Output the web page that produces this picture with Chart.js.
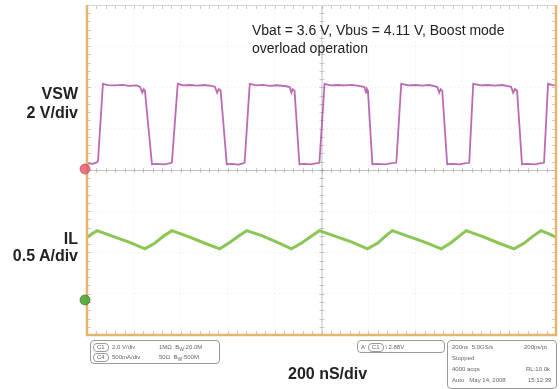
<!DOCTYPE html>
<html>
<head>
<meta charset="utf-8">
<script src="https://cdn.jsdelivr.net/npm/chart.js@4.4.1/dist/chart.umd.min.js"></script>
<style>
    html, body { margin: 0; padding: 0; background: #fff; }
    #wrap { position: relative; width: 560px; height: 389px; font-family: Arial, "Liberation Sans", sans-serif; color: #222; }
    #scope { position: absolute; left: 0; top: 0; }
    .lbl { position: absolute; font-weight: bold; font-size: 16px; line-height: 16px; white-space: nowrap; }
    .right { right: 482px; text-align: right; }
    .note { position: absolute; font-size: 14px; line-height: 14px; white-space: nowrap; color: #222; }
    .box { position: absolute; border: 1px solid #9a9a9a; border-radius: 4px; box-sizing: border-box; font-size: 6px; color: #666; }
    .row { position: absolute; white-space: nowrap; }
    .pill { display: inline-block; border: 1px solid #999; border-radius: 4px; padding: 0 3px; line-height: 7px; }
</style>
</head>
<body>
<div id="wrap">
    <canvas id="scope" width="560" height="389"></canvas>

    <div class="note" style="left:252px; top:23px;">Vbat = 3.6 V, Vbus = 4.11 V, Boost mode</div>
    <div class="note" style="left:252px; top:41px;">overload operation</div>

    <div class="lbl right" style="top:86px;">VSW</div>
    <div class="lbl right" style="top:105px;">2 V/div</div>
    <div class="lbl right" style="top:231px;">IL</div>
    <div class="lbl right" style="top:248px;">0.5 A/div</div>
    <div class="lbl" style="left:288px; top:366px;">200 nS/div</div>

    <!-- scope readout boxes -->
    <div class="box" style="left:90px; top:340px; width:130px; height:24px;">
        <div class="row" style="left:2px; top:2px;"><span class="pill">C1</span>&nbsp;&nbsp;2.0 V/div</div>
        <div class="row" style="left:68px; top:3px;">1MΩ &nbsp;B<sub>W</sub>:20.0M</div>
        <div class="row" style="left:2px; top:12px;"><span class="pill">C4</span>&nbsp;&nbsp;500mA/div</div>
        <div class="row" style="left:68px; top:13px;">50Ω &nbsp;B<sub>W</sub>:500M</div>
    </div>
    <div class="box" style="left:357px; top:340px; width:88px; height:13px;">
        <div class="row" style="left:3px; top:2px;">A' <span class="pill">C1</span> \ 2.88V</div>
    </div>
    <div class="box" style="left:447px; top:340px; width:110px; height:49px;">
        <div class="row" style="left:4px; top:3px;">200ns &nbsp;5.0GS/s</div>
        <div class="row" style="left:76px; top:3px;">200ps/pt</div>
        <div class="row" style="left:4px; top:14px;">Stopped</div>
        <div class="row" style="left:4px; top:25px;">4000 acqs</div>
        <div class="row" style="left:78px; top:25px;">RL:10.0k</div>
        <div class="row" style="left:4px; top:36px;">Auto &nbsp;&nbsp;May 14, 2008</div>
        <div class="row" style="left:80px; top:36px;">15:12:39</div>
    </div>
</div>

<script>
// === DATA (time in ns, VSW in volts, IL in amps) ===
const vswTime = [
    0, 25, 43, 47, 68,
    90, 120, 150, 180, 210, 226, 236, 242, 247, 277, 300, 330, 355, 362, 387,
    410, 440, 470, 500, 530, 545, 555, 562, 570, 596, 620, 645, 665, 672, 694,
    720, 750, 780, 810, 850, 864, 872, 877, 885, 906, 930, 955, 980, 991, 1013,
    1040, 1070, 1100, 1130, 1165, 1183, 1190, 1194, 1198, 1217, 1240, 1270, 1300, 1319, 1340,
    1370, 1400, 1430, 1460, 1485, 1494, 1502, 1508, 1515, 1536, 1560, 1590, 1615, 1630, 1647,
    1680, 1710, 1740, 1770, 1800, 1809, 1817, 1825, 1834, 1855, 1880, 1910, 1935, 1949, 1966,
    1985, 2000
];
const vswVolts = [
    0.32, 0.30, 0.38, 0.45, 4.18,
    4.12, 4.10, 4.13, 4.08, 4.10, 4.04, 3.75, 3.92, 3.85, 0.28, 0.30, 0.27, 0.33, 0.36, 4.18,
    4.10, 4.12, 4.09, 4.12, 4.08, 4.04, 3.75, 3.92, 3.85, 0.28, 0.30, 0.26, 0.32, 0.35, 4.18,
    4.10, 4.13, 4.08, 4.11, 4.06, 4.02, 3.75, 3.92, 3.85, 0.28, 0.30, 0.27, 0.33, 0.35, 4.18,
    4.10, 4.12, 4.10, 4.13, 4.07, 4.02, 3.75, 3.92, 3.85, 0.28, 0.30, 0.27, 0.33, 0.35, 4.18,
    4.10, 4.12, 4.09, 4.12, 4.05, 4.02, 3.75, 3.92, 3.85, 0.28, 0.30, 0.27, 0.33, 0.35, 4.18,
    4.10, 4.12, 4.09, 4.12, 4.05, 4.02, 3.75, 3.92, 3.85, 0.28, 0.30, 0.27, 0.33, 0.35, 4.18,
    4.12, 4.10
];

const ilTime = [0, 20, 43, 110, 180, 247, 290, 330, 362, 430, 500, 566, 610, 650, 681, 745, 810, 872, 915, 955,
    991, 1060, 1130, 1196, 1240, 1275, 1302, 1370, 1440, 1511, 1555, 1590, 1617, 1685, 1755, 1821, 1865, 1905, 1936, 1970, 2000];
const ilAmps = [0.76, 0.80, 0.84, 0.77, 0.70, 0.62, 0.69, 0.78, 0.84, 0.77, 0.69, 0.62, 0.70, 0.78, 0.84, 0.78, 0.70, 0.62, 0.69, 0.77,
    0.84, 0.77, 0.70, 0.62, 0.69, 0.78, 0.84, 0.77, 0.70, 0.62, 0.70, 0.78, 0.84, 0.77, 0.69, 0.62, 0.69, 0.78, 0.84, 0.80, 0.76];

// screen: 10 x 200 ns, 8 divisions high; VSW ground at centre, IL ground 3.15 div lower
const TIME_DIV = 200;
const VSW_DIV = 2;
const IL_DIV = 0.5;
const IL_OFFSET_DIV = 3.15;

const COLORS = {
    vsw: "rgba(176, 80, 166, 0.85)",
    il: "rgba(125, 192, 65, 0.9)",
    grid: "rgba(150, 150, 150, 0.18)",
    axis: "rgba(140, 140, 140, 0.5)",
    ticks: "rgba(140, 140, 140, 0.45)",
    frame: "#e6b46c",
    top: "#d6d6d6",
};

const toPoints = (xs, ys) => xs.map((x, i) => ({ x: x, y: ys[i] }));

// graticule: centre cross with minor ticks, edge ticks, orange frame, channel markers
const graticule = {
    id: "graticule",
    beforeDatasetsDraw(chart) {
        const { ctx, chartArea: a, scales } = chart;
        const xs = scales.x, ys = scales.y;
        const cx = xs.getPixelForValue(5 * TIME_DIV);
        const cy = ys.getPixelForValue(0);
        ctx.save();
        ctx.lineWidth = 1;
        ctx.strokeStyle = COLORS.axis;
        ctx.beginPath();
        ctx.moveTo(a.left, cy + 0.5); ctx.lineTo(a.right, cy + 0.5);
        ctx.moveTo(cx + 0.5, a.top); ctx.lineTo(cx + 0.5, a.bottom);
        ctx.stroke();
        // minor ticks, 5 per division
        ctx.strokeStyle = COLORS.ticks;
        ctx.beginPath();
        for (let t = 0; t <= 10 * TIME_DIV; t += TIME_DIV / 5) {
            const px = Math.round(xs.getPixelForValue(t)) + 0.5;
            ctx.moveTo(px, cy - 2); ctx.lineTo(px, cy + 3);
            ctx.moveTo(px, a.top); ctx.lineTo(px, a.top + 4);
            ctx.moveTo(px, a.bottom); ctx.lineTo(px, a.bottom - 4);
        }
        for (let v = -4 * VSW_DIV; v <= 4 * VSW_DIV; v += VSW_DIV / 5) {
            const py = Math.round(ys.getPixelForValue(v)) + 0.5;
            ctx.moveTo(cx - 2, py); ctx.lineTo(cx + 3, py);
            ctx.moveTo(a.left, py); ctx.lineTo(a.left + 4, py);
            ctx.moveTo(a.right, py); ctx.lineTo(a.right - 4, py);
        }
        ctx.stroke();
        ctx.restore();
    },
    afterDraw(chart) {
        const { ctx, chartArea: a, scales } = chart;
        ctx.save();
        ctx.strokeStyle = COLORS.top;
        ctx.lineWidth = 1;
        ctx.beginPath();
        ctx.moveTo(a.left, a.top + 0.5); ctx.lineTo(a.right, a.top + 0.5);
        ctx.stroke();
        ctx.strokeStyle = COLORS.frame;
        ctx.lineWidth = 2.5;
        ctx.beginPath();
        ctx.moveTo(a.left, a.top); ctx.lineTo(a.left, a.bottom);
        ctx.lineTo(a.right, a.bottom); ctx.lineTo(a.right, a.top);
        ctx.stroke();

        // channel ground markers
        const marker = (y, fill, edge) => {
            ctx.beginPath();
            ctx.arc(a.left - 2, y, 5, 0, Math.PI * 2);
            ctx.fillStyle = fill;
            ctx.fill();
            ctx.lineWidth = 1;
            ctx.strokeStyle = edge;
            ctx.stroke();
        };
        marker(scales.y.getPixelForValue(0) - 1, "rgba(228, 92, 112, 0.85)", "rgba(200, 60, 80, 0.6)");
        marker(scales.y2.getPixelForValue(0), "rgba(80, 165, 55, 0.9)", "rgba(50, 120, 40, 0.7)");
        ctx.restore();
    },
};

const ctx = document.getElementById("scope").getContext("2d");
new Chart(ctx, {
    type: "line",
    data: {
        datasets: [
            {
                label: "VSW",
                data: toPoints(vswTime, vswVolts),
                yAxisID: "y",
                borderColor: COLORS.vsw,
                borderWidth: 1.8,
                pointRadius: 0,
                tension: 0,
            },
            {
                label: "IL",
                data: toPoints(ilTime, ilAmps),
                yAxisID: "y2",
                borderColor: COLORS.il,
                borderWidth: 3,
                pointRadius: 0,
                tension: 0,
            },
        ],
    },
    options: {
        responsive: false,
        animation: false,
        events: [],
        layout: { padding: { left: 87, top: 5, right: 4, bottom: 54 } },
        plugins: {
            legend: { display: false },
            tooltip: { enabled: false },
        },
        scales: {
            x: {
                type: "linear",
                min: 0,
                max: 10 * TIME_DIV,
                ticks: { display: false, stepSize: TIME_DIV },
                grid: { color: COLORS.grid, drawTicks: false },
                border: { display: false, dash: [1, 3] },
            },
            y: {
                min: -4 * VSW_DIV,
                max: 4 * VSW_DIV,
                ticks: { display: false, stepSize: VSW_DIV },
                grid: { color: COLORS.grid, drawTicks: false },
                border: { display: false, dash: [1, 3] },
            },
            y2: {
                display: false,
                min: -(4 - IL_OFFSET_DIV) * IL_DIV,
                max: (4 + IL_OFFSET_DIV) * IL_DIV,
            },
        },
    },
    plugins: [graticule],
});
</script>
</body>
</html>
